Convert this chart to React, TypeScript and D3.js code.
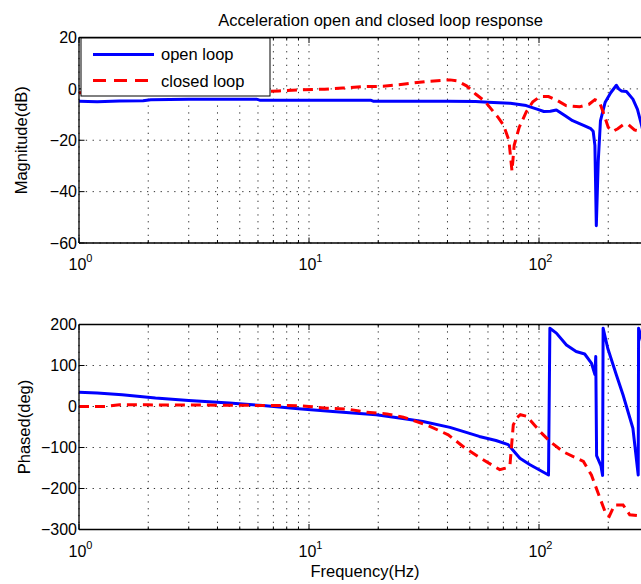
import React from "react";
import * as d3 from "d3";

// ---------- data ----------
const magOpenFreq = [1, 1.2, 1.5, 1.9, 2.05, 3, 4, 5.9, 6.1, 10, 18.5, 19, 40, 53, 60, 75, 88, 98, 105, 112, 119, 130, 140, 158, 168, 172, 175, 177.5, 181, 185, 194, 205, 217, 222, 228, 240, 256, 268, 276, 290];
const magOpenDb = [-4.8, -5.0, -4.7, -4.6, -4.2, -4.0, -4.0, -4.0, -4.4, -4.4, -4.4, -4.8, -4.8, -4.9, -5.2, -5.6, -6.5, -7.9, -8.8, -8.7, -8.2, -10.5, -12.4, -14.4, -15.5, -16.5, -22, -53.3, -28, -12.5, -5.2, -1.5, 1.4, 0, -0.8, -1.0, -4.0, -8, -12.4, -20];

const magClosedFreq = [1, 3, 6, 7.4, 9.1, 11.7, 14, 17.2, 21, 25.6, 32.5, 41, 44, 48.4, 53, 58, 66.4, 70, 74, 76.3, 78, 82, 88, 94, 101, 110, 120, 131, 150, 165, 175, 183, 190, 200, 210, 220, 232, 245, 260, 275, 290];
const magClosedDb = [-1.5, -1.0, -1.2, -0.8, -0.4, -0.1, 0.3, 0.9, 1.0, 1.8, 2.9, 3.5, 3.1, 1.2, -2, -4.7, -11.1, -14, -20, -32, -22, -15, -9, -5, -3, -3, -4.5, -6.5, -7, -6, -4.2, -5, -9, -15, -16.5, -15.5, -14, -14, -16, -16.5, -17];

const phOpenFreq = [1, 1.2, 1.54, 2.15, 3, 4.5, 6.3, 9, 12.7, 19.6, 24.7, 31.3, 41, 55, 65, 73.5, 82.6, 91.4, 110, 111.5, 119, 131.6, 145, 158, 169, 175, 176.5, 178, 186, 189, 190, 199, 217, 232, 256, 270, 271, 285];
const phOpenDeg = [35, 33, 28.5, 20.5, 14.6, 8.3, 2.4, -5.6, -12, -20, -28, -36.5, -51, -73, -83, -93, -126, -142, -167, 191, 179, 150, 134, 128, 106, 78, 122, -120, -145, -168, 191, 142, 77, 28, -53, -167, 191, 150];

const phClosedFreq = [1, 1.3, 1.5, 2, 5, 9, 10, 11.9, 14.6, 17.8, 21.8, 25.7, 32.5, 40.3, 47.6, 54.6, 67.5, 72, 74.8, 77.3, 79.9, 83, 88.5, 101, 111.5, 127, 156, 169, 184, 196, 202, 213, 232, 248, 275, 290];
const phClosedDeg = [0, 0, 4, 4, 3, 2, 0, -4, -6, -14, -18, -26, -45, -69, -101, -123, -154, -150, -142, -45, -28, -20, -24, -61, -85, -110, -134, -167, -223, -264, -268, -240, -240, -264, -267, -267];

const magTicks = [20, 0, -20, -40, -60];
const phTicks = [200, 100, 0, -100, -200, -300];
const decadeTicks = [1, 10, 100];
const decadeExp = ["0", "1", "2"];
const legendLabels = ["open loop", "closed loop"];

const titleText = "Acceleration open and closed loop response";
const magLabel = "Magnitude(dB)";
const phLabel = "Phased(deg)";
const xLabel = "Frequency(Hz)";

// ---------- layout ----------
const W = 641;
const H = 584;
const X0 = 79;
const DECADE = 230;
const FMAX = 420;
const X1 = X0 + DECADE * Math.log10(FMAX);
const FONT = "'Liberation Sans', Arial, Helvetica, sans-serif";
const BLUE = "#0000ff";
const RED = "#ff0000";

const xScale = d3.scaleLog().domain([1, FMAX]).range([X0, X1]);
const magScale = d3.scaleLinear().domain([-60, 20]).range([243, 37.5]);
const phScale = d3.scaleLinear().domain([-300, 200]).range([529.5, 324.5]);

const minorTicks: number[] = [];
for (let e = 0; e < 3; e++) {
  for (let m = 1; m <= 9; m++) {
    const v = m * Math.pow(10, e);
    if (v <= FMAX) minorTicks.push(v);
  }
}

function Panel(props: {
  id: string;
  yScale: d3.ScaleLinear<number, number>;
  yTicks: number[];
  yLabel: string;
  yLabelX: number;
  fOpen: number[];
  vOpen: number[];
  fClosed: number[];
  vClosed: number[];
  legend?: boolean;
}) {
  const { id, yScale, yTicks, yLabel, yLabelX, fOpen, vOpen, fClosed, vClosed, legend } = props;
  const [yb, yt] = yScale.range();
  const line = d3
    .line<[number, number]>()
    .x((d) => xScale(d[0]))
    .y((d) => yScale(d[1]));
  const openPts = fOpen.map((f, i) => [f, vOpen[i]] as [number, number]);
  const closedPts = fClosed.map((f, i) => [f, vClosed[i]] as [number, number]);
  const yMid = (yb + yt) / 2;
  return (
    <g>
      <defs>
        <clipPath id={id}>
          <rect x={X0} y={yt} width={X1 - X0} height={yb - yt} />
        </clipPath>
      </defs>
      {/* grid */}
      {minorTicks.map((t) => (
        <line key={"gv" + t} x1={xScale(t)} x2={xScale(t)} y1={yt} y2={yb} stroke="#333" strokeWidth={1} strokeDasharray="1.3,5.5" />
      ))}
      {yTicks.map((t) => (
        <line key={"gh" + t} x1={X0} x2={X1} y1={yScale(t)} y2={yScale(t)} stroke="#333" strokeWidth={1} strokeDasharray="1.3,5.5" />
      ))}
      {/* minor ticks top & bottom */}
      {minorTicks.map((t) => {
        const isMajor = decadeTicks.includes(t);
        const len = isMajor ? 5.5 : 3;
        return (
          <g key={"t" + t}>
            <line x1={xScale(t)} x2={xScale(t)} y1={yb} y2={yb - len} stroke="#000" strokeWidth={1} />
            <line x1={xScale(t)} x2={xScale(t)} y1={yt} y2={yt + len} stroke="#000" strokeWidth={1} />
          </g>
        );
      })}
      {yTicks.map((t) => (
        <line key={"yt" + t} x1={X0} x2={X0 + 5.5} y1={yScale(t)} y2={yScale(t)} stroke="#000" strokeWidth={1} />
      ))}
      {/* data */}
      <g clipPath={`url(#${id})`}>
        <path d={line(openPts) || ""} fill="none" stroke={BLUE} strokeWidth={3} strokeLinejoin="round" />
        <path d={line(closedPts) || ""} fill="none" stroke={RED} strokeWidth={3} strokeDasharray="10,6" />
      </g>
      {/* axes frame */}
      <line x1={X0} x2={X0} y1={yt} y2={yb} stroke="#000" strokeWidth={1.3} />
      <line x1={X0} x2={X1} y1={yb} y2={yb} stroke="#000" strokeWidth={1.3} />
      <line x1={X0} x2={X1} y1={yt} y2={yt} stroke="#000" strokeWidth={1.3} />
      {/* y tick labels */}
      {yTicks.map((t) => (
        <text key={"yl" + t} x={77} y={yScale(t)} dy="0.36em" textAnchor="end" fontSize={16} fontFamily={FONT} fill="#000">
          {t < 0 ? "\u2212" + Math.abs(t) : String(t)}
        </text>
      ))}
      {/* x tick labels */}
      {decadeTicks.map((t, i) => (
        <text key={"xl" + t} x={xScale(t) + 1.5} y={yb + 27} textAnchor="middle" fontSize={16} fontFamily={FONT} fill="#000">
          10
          <tspan dy={-8} fontSize={11}>
            {decadeExp[i]}
          </tspan>
        </text>
      ))}
      {/* y label */}
      <text transform={`translate(${yLabelX},${yMid}) rotate(-90)`} textAnchor="middle" fontSize={16.5} fontFamily={FONT} fill="#000">
        {yLabel}
      </text>
      {legend && (
        <g>
          <rect x={81} y={38} width={189} height={58} fill="#fff" stroke="#000" strokeWidth={1} />
          <line x1={93} x2={154} y1={54.5} y2={54.5} stroke={BLUE} strokeWidth={3} />
          <line x1={93} x2={154} y1={80.5} y2={80.5} stroke={RED} strokeWidth={3} strokeDasharray="13,8" />
          <text x={161} y={54.5} dy="0.35em" fontSize={16.5} fontFamily={FONT} fill="#000">
            {legendLabels[0]}
          </text>
          <text x={161} y={81} dy="0.35em" fontSize={16.5} fontFamily={FONT} fill="#000">
            {legendLabels[1]}
          </text>
        </g>
      )}
    </g>
  );
}

export default function App() {
  return (
    <svg width={W} height={H} style={{ position: "absolute", left: 0, top: 0, background: "#fff" }}>
      <rect x={0} y={0} width={W} height={H} fill="#fff" />
      <text x={(X0 + X1) / 2} y={25.5} textAnchor="middle" fontSize={16.5} fontFamily={FONT} fill="#000">
        {titleText}
      </text>
      <Panel id="clipMag" yScale={magScale} yTicks={magTicks} yLabel={magLabel} yLabelX={26.5} fOpen={magOpenFreq} vOpen={magOpenDb} fClosed={magClosedFreq} vClosed={magClosedDb} legend />
      <Panel id="clipPh" yScale={phScale} yTicks={phTicks} yLabel={phLabel} yLabelX={29.5} fOpen={phOpenFreq} vOpen={phOpenDeg} fClosed={phClosedFreq} vClosed={phClosedDeg} />
      <text x={365} y={577} textAnchor="middle" fontSize={16.5} fontFamily={FONT} fill="#000">
        {xLabel}
      </text>
    </svg>
  );
}
